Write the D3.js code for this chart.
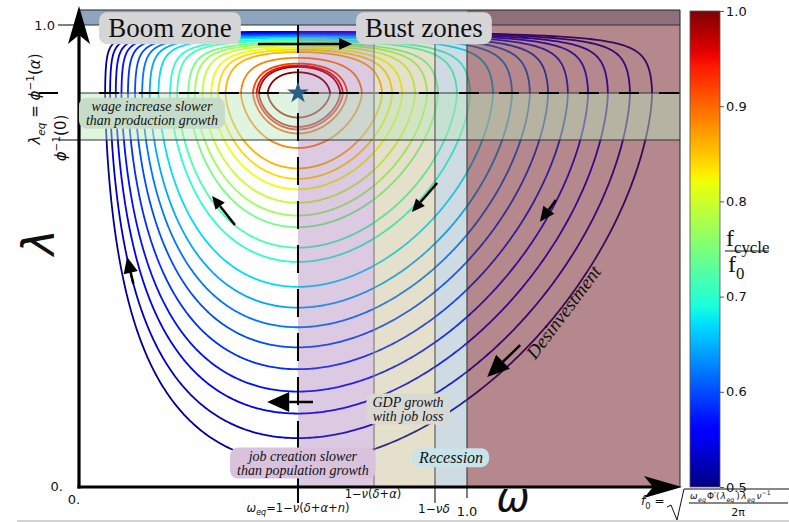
<!DOCTYPE html>
<html lang="en">
<head>
<meta charset="UTF-8">
<title>Goodwin cycles</title>
<script src="https://d3js.org/d3.v7.min.js"></script>
<style>
  body { margin: 0; background: #fff; }
  svg { display: block; font-family: "DejaVu Sans", sans-serif; }
  text { fill: #111; }
  .serif { font-family: "Liberation Serif", "Times New Roman", serif; }
</style>
</head>
<body>
<svg width="789" height="522"></svg>
<script>
// threshold values on the axes
const omegaEq = 0.5644, omegaRecov = 0.7603, omegaDelta = 0.9175;
const lambdaEq = 0.8528, lambdaPhi0 = 0.7511;

// closed orbits: omega where each orbit crosses lambda_eq on the right side
const orbitOmegaRight = [1.477, 1.420, 1.363, 1.312, 1.260, 1.209, 1.162, 1.116, 1.067, 1.008, 0.974,
                         0.925, 0.897, 0.866, 0.833, 0.807, 0.781, 0.729, 0.691, 0.680, 0.673, 0.647];
// f_cycle / f0 of each orbit (colour)
const orbitFreq = [0.51, 0.53, 0.55, 0.57, 0.585, 0.60, 0.62, 0.645, 0.67, 0.70, 0.72,
                   0.745, 0.77, 0.795, 0.82, 0.84, 0.86, 0.885, 0.92, 0.95, 0.975, 0.995];
const cbTicks = [0.5, 0.6, 0.7, 0.8, 0.9, 1.0];

// orbit shape constants: wage exponent, low / high employment terms
const Q = 1.77, cLow = 2.273, pLow = 1.65, cHigh = 0.0613, pHigh = 1.49;

const svg = d3.select("svg");
const x = d3.scaleLinear().domain([0, 1]).range([79, 467]);
const y = d3.scaleLinear().domain([0, 1]).range([487, 25]);
const omegaMax = x.invert(680), lambdaMax = y.invert(10);

// jet colormap
const jR = d3.scaleLinear().domain([0, 0.35, 0.66, 0.89, 1]).range([0, 0, 1, 1, 0.5]).clamp(true);
const jG = d3.scaleLinear().domain([0, 0.125, 0.375, 0.64, 0.91, 1]).range([0, 0, 1, 1, 0, 0]).clamp(true);
const jB = d3.scaleLinear().domain([0, 0.11, 0.34, 0.65, 1]).range([0.5, 1, 1, 0, 0]).clamp(true);
const cNorm = d3.scaleLinear().domain([0.5, 1]).range([0, 1]);
const jet = v => { const t = cNorm(v); return d3.rgb(255 * jR(t), 255 * jG(t), 255 * jB(t)).formatHex(); };

// conserved quantity H = F(omega) + G(lambda), both zero at the equilibrium
const G = l => l < lambdaEq ? cLow * Math.pow(lambdaEq - l, pLow)
                            : cHigh * Math.pow((l - lambdaEq) / (1 - l), pHigh);
const F = w => { const r = w / omegaEq; return Math.pow(r, Q) / Q - Math.log(r) - 1 / Q; };

function solve(f, lo, hi, target) {
  let flo = f(lo) - target;
  for (let i = 0; i < 70; i++) {
    const mid = (lo + hi) / 2, fm = f(mid) - target;
    if ((fm > 0) === (flo > 0)) { lo = mid; flo = fm; } else hi = mid;
  }
  return (lo + hi) / 2;
}

function orbit(wR) {
  const h = F(wR);
  const lLo = solve(G, 1e-6, lambdaEq, h), lHi = solve(G, lambdaEq, 1 - 1e-9, h);
  const N = 300, right = [], left = [];
  for (let i = 0; i <= N; i++) {
    const l = lLo + (lHi - lLo) * (1 - Math.cos(Math.PI * i / N)) / 2;
    const rem = Math.max(0, h - G(l));
    right.push([solve(F, omegaEq, 20 * omegaEq, rem), l]);
    left.push([solve(F, 1e-6, omegaEq, rem), l]);
  }
  return right.reverse().concat(left);
}

const line = d3.line().x(d => x(d[0])).y(d => y(d[1])).curve(d3.curveLinearClosed);

svg.append("g").selectAll("path")
  .data(orbitOmegaRight.map((w, i) => ({ pts: orbit(w), f: orbitFreq[i] })))
  .join("path")
  .attr("d", d => line(d.pts))
  .attr("fill", "none")
  .attr("stroke", d => jet(d.f))
  .attr("stroke-width", 1.8);

// zones
const zones = [
  { x0: omegaEq, x1: omegaRecov, c: "rgba(138,75,158,0.3)" },
  { x0: omegaRecov, x1: omegaDelta, c: "rgba(168,152,85,0.3)" },
  { x0: omegaDelta, x1: 1, c: "rgba(95,135,162,0.3)" },
  { x0: 1, x1: omegaMax, c: "rgba(107,17,29,0.5)" }
];
svg.append("g").selectAll("rect").data(zones).join("rect")
  .attr("x", d => x(d.x0)).attr("width", d => x(d.x1) - x(d.x0))
  .attr("y", y(1)).attr("height", y(0) - y(1))
  .attr("fill", d => d.c);
svg.append("rect").attr("x", x(0)).attr("width", x(omegaMax) - x(0))
  .attr("y", y(lambdaEq)).attr("height", y(lambdaPhi0) - y(lambdaEq))
  .attr("fill", "rgba(186,233,186,0.45)");
svg.append("rect").attr("x", x(0)).attr("width", x(1) - x(0))
  .attr("y", y(lambdaMax)).attr("height", y(1) - y(lambdaMax)).attr("fill", "#8fa5bf");
svg.append("rect").attr("x", x(1)).attr("width", x(omegaMax) - x(1))
  .attr("y", y(lambdaMax)).attr("height", y(1) - y(lambdaMax)).attr("fill", "#8f6f7b");

// thin reference lines
const ref = svg.append("g").attr("stroke-width", 1);
[1, lambdaEq, lambdaPhi0].forEach(l => ref.append("line")
  .attr("x1", x(0)).attr("x2", x(omegaMax)).attr("y1", y(l)).attr("y2", y(l)).attr("stroke", "#333"));
[[omegaRecov, "#888", 1.3], [omegaDelta, "#444", 1], [1, "#444", 1.2]].forEach(([w, c, s]) => ref.append("line")
  .attr("x1", x(w)).attr("x2", x(w)).attr("y1", y(1)).attr("y2", y(0)).attr("stroke", c).attr("stroke-width", s));
// frame
svg.append("path").attr("d", `M${x(0)},${y(lambdaMax)}H${x(omegaMax)}V${y(0)}`)
  .attr("fill", "none").attr("stroke", "#222").attr("stroke-width", 1);

// dashed equilibrium lines
svg.append("line").attr("x1", x(0)).attr("x2", x(omegaMax)).attr("y1", y(lambdaEq)).attr("y2", y(lambdaEq))
  .attr("stroke", "#000").attr("stroke-width", 2).attr("stroke-dasharray", "20,20").attr("stroke-dashoffset", 20);
svg.append("line").attr("x1", x(omegaEq)).attr("x2", x(omegaEq)).attr("y1", y(1)).attr("y2", y(0))
  .attr("stroke", "#000").attr("stroke-width", 2).attr("stroke-dasharray", "28,16");

svg.append("path").attr("d", d3.symbol(d3.symbolStar, 150)())
  .attr("transform", `translate(${x(omegaEq)},${y(lambdaEq)})`).attr("fill", "#2b5e86");

// flow arrows
const arrows = [
  { from: [0.461, 0.959], to: [0.704, 0.959], head: 13 },
  { from: [0.402, 0.567], to: [0.343, 0.630], head: 13 },
  { from: [0.140, 0.440], to: [0.124, 0.498], head: 16 },
  { from: [0.923, 0.658], to: [0.858, 0.595], head: 13 },
  { from: [1.229, 0.621], to: [1.188, 0.574], head: 15 },
  { from: [1.137, 0.307], to: [1.052, 0.238], head: 22 },
  { from: [0.603, 0.184], to: [0.485, 0.184], head: 22 }
];
const ag = svg.append("g");
arrows.forEach(a => {
  const x1 = x(a.from[0]), y1 = y(a.from[1]), x2 = x(a.to[0]), y2 = y(a.to[1]);
  const len = Math.hypot(x2 - x1, y2 - y1), ux = (x2 - x1) / len, uy = (y2 - y1) / len;
  const hl = a.head, hw = a.head * 0.45;
  const bx = x2 - ux * hl, by = y2 - uy * hl;
  ag.append("line").attr("x1", x1).attr("y1", y1).attr("x2", bx).attr("y2", by)
    .attr("stroke", "#000").attr("stroke-width", 2.5);
  ag.append("path").attr("d", `M${x2},${y2}L${bx - uy * hw},${by + ux * hw}L${bx + uy * hw},${by - ux * hw}Z`)
    .attr("fill", "#000");
});

// axes with arrow heads
function axisArrow(x1, y1, x2, y2) {
  const len = Math.hypot(x2 - x1, y2 - y1), ux = (x2 - x1) / len, uy = (y2 - y1) / len;
  const hl = 38, hw = 11, bx = x2 - ux * hl, by = y2 - uy * hl, nx = x2 - ux * (hl - 9), ny = y2 - uy * (hl - 9);
  svg.append("line").attr("x1", x1).attr("y1", y1).attr("x2", nx).attr("y2", ny)
    .attr("stroke", "#000").attr("stroke-width", 3.2);
  svg.append("path").attr("d", `M${x2},${y2}L${bx - uy * hw},${by + ux * hw}L${nx},${ny}L${bx + uy * hw},${by - ux * hw}Z`)
    .attr("fill", "#000");
}
axisArrow(x(0), y(0) + 1.5, x(0), 6);
axisArrow(x(0) - 1.5, y(0), 682, y(0));

// rich text helper
function rich(sel, parts, fs) {
  let shift = 0;
  parts.forEach(p => {
    const target = p.sub ? 0.3 : p.sup ? -0.4 : 0;
    const ts = sel.append("tspan").text(p.t).style("font-size", (target ? 0.7 : 1) * fs + "px");
    if (target !== shift) ts.attr("dy", (target - shift) * fs);
    if (p.i) ts.style("font-style", "italic");
    if (p.dx) ts.attr("dx", p.dx);
    shift = target;
  });
  return sel;
}

// y ticks
svg.append("line").attr("x1", 58).attr("x2", x(0)).attr("y1", y(1)).attr("y2", y(1)).attr("stroke", "#000");
svg.append("line").attr("x1", 58).attr("x2", x(0)).attr("y1", y(lambdaPhi0)).attr("y2", y(lambdaPhi0)).attr("stroke", "#000");
svg.append("line").attr("x1", 39).attr("x2", 58).attr("y1", y(lambdaEq)).attr("y2", y(lambdaEq)).attr("stroke", "#000").attr("stroke-width", 2);
svg.append("text").attr("x", 55).attr("y", y(1) + 4.5).attr("text-anchor", "end").style("font-size", "13px").text("1.0");
svg.append("text").attr("x", 63).attr("y", y(0) + 4).attr("text-anchor", "end").style("font-size", "13px").text("0.");
rich(svg.append("text").attr("transform", `translate(40,${y(lambdaEq) + 6}) rotate(-90)`).attr("text-anchor", "middle"),
  [{ t: "λ", i: 1 }, { t: "eq", sub: 1, i: 1 }, { t: " = " }, { t: "ϕ", i: 1 }, { t: "−1", sup: 1 }, { t: "(" }, { t: "α", i: 1 }, { t: ")" }], 15);
rich(svg.append("text").attr("transform", `translate(66,${y(lambdaPhi0) - 2}) rotate(-90)`).attr("text-anchor", "middle"),
  [{ t: "ϕ", i: 1 }, { t: "−1", sup: 1 }, { t: "(0)" }], 15);
svg.append("text").attr("transform", `translate(54,${y(0.53)}) rotate(-90)`).attr("text-anchor", "middle")
  .style("font-size", "44px").style("font-style", "italic").text("λ");

// x ticks
[[omegaEq, 16, 2], [omegaDelta, 16, 1], [1, 11, 1]].forEach(([w, l, s]) => svg.append("line")
  .attr("x1", x(w)).attr("x2", x(w)).attr("y1", y(0)).attr("y2", y(0) + l).attr("stroke", "#000").attr("stroke-width", s));
svg.append("text").attr("x", x(0) - 5).attr("y", 504).attr("text-anchor", "middle").style("font-size", "13px").text("0.");
rich(svg.append("text").attr("x", x(omegaEq)).attr("y", 512).attr("text-anchor", "middle"),
  [{ t: "ω", i: 1 }, { t: "eq", sub: 1, i: 1 }, { t: "=1−" }, { t: "ν", i: 1 }, { t: "(" }, { t: "δ", i: 1 }, { t: "+" }, { t: "α", i: 1 }, { t: "+" }, { t: "n", i: 1 }, { t: ")" }], 11.5);
rich(svg.append("text").attr("x", x(omegaRecov) - 1).attr("y", 498).attr("text-anchor", "middle"),
  [{ t: "1−" }, { t: "ν", i: 1 }, { t: "(" }, { t: "δ", i: 1 }, { t: "+" }, { t: "α", i: 1 }, { t: ")" }], 11.5);
rich(svg.append("text").attr("x", x(omegaDelta) - 1).attr("y", 513).attr("text-anchor", "middle"),
  [{ t: "1−" }, { t: "νδ", i: 1 }], 12);
svg.append("text").attr("x", x(1)).attr("y", 516).attr("text-anchor", "middle").style("font-size", "13px").text("1.0");
svg.append("text").attr("x", 513).attr("y", 511).attr("text-anchor", "middle")
  .style("font-size", "40px").style("font-style", "italic").text("ω");

// annotation boxes
function boxed(lines, at, fs, fill, opts = {}) {
  const g = svg.append("g").attr("transform", `translate(${x(at[0])},${y(at[1])})`);
  const t = g.append("text").attr("class", "serif").attr("text-anchor", "middle")
    .style("font-size", fs + "px").style("font-style", opts.italic ? "italic" : "normal");
  lines.forEach((s, i) => t.append("tspan").attr("x", 0).attr("y", (i - (lines.length - 1) / 2) * fs * 1.0 + fs * 0.33).text(s));
  const b = t.node().getBBox(), px = opts.px || 6, py = opts.py || 1;
  g.insert("rect", "text").attr("x", b.x - px).attr("y", b.y - py).attr("width", b.width + 2 * px)
    .attr("height", b.height + 2 * py).attr("rx", 8).attr("fill", fill);
}
boxed(["Boom zone"], [0.2345, 0.993], 27, "#d6d6d6", { px: 9, py: 0 });
boxed(["Bust zones"], [0.889, 0.993], 27, "#d6d6d6", { px: 9, py: 0 });
boxed(["wage increase slower", "than production growth"], [0.188, 0.8095], 14, "#c6dcc9", { italic: 1, px: 7 });
boxed(["GDP growth", "with job loss"], [0.848, 0.169], 14, "#d9d9d4", { italic: 1 });
boxed(["job creation slower", "than population growth"], [0.577, 0.052], 14, "#d8c2dc", { italic: 1, px: 7 });
boxed(["Recession"], [0.959, 0.063], 16, "#c8e4e8", { italic: 1 });
svg.append("text").attr("class", "serif").attr("transform", `translate(${x(1.262)},${y(0.37)}) rotate(-53)`)
  .attr("text-anchor", "middle").style("font-style", "italic")
  .style("font-size", "19px").text("Desinvestment");

// colour bar
const cb = d3.scaleLinear().domain([0.5, 1]).range([487, 11]);
const grad = svg.append("defs").append("linearGradient").attr("id", "jet")
  .attr("x1", 0).attr("y1", 1).attr("x2", 0).attr("y2", 0);
grad.selectAll("stop").data(d3.range(0, 1.0001, 0.02)).join("stop")
  .attr("offset", d => d).attr("stop-color", d => jet(0.5 + d * 0.5));
svg.append("rect").attr("x", 690).attr("y", cb(1)).attr("width", 30).attr("height", cb(0.5) - cb(1))
  .attr("fill", "url(#jet)").attr("stroke", "#555").attr("stroke-width", 0.8);
const cbAxis = svg.append("g").attr("transform", "translate(720,0)")
  .call(d3.axisRight(cb).tickValues(cbTicks).tickFormat(d3.format(".1f")).tickSize(4));
cbAxis.select(".domain").remove();
cbAxis.selectAll("text").style("font-size", "13px").style("font-family", "DejaVu Sans").attr("x", 6);
cbAxis.selectAll("line").attr("stroke", "#555");
rich(svg.append("text").attr("class", "serif").attr("x", 726).attr("y", 246), [{ t: "f" }, { t: "cycle", sub: 1 }], 24);
svg.append("line").attr("x1", 725).attr("x2", 769).attr("y1", 251).attr("y2", 251).attr("stroke", "#111").attr("stroke-width", 1.2);
rich(svg.append("text").attr("class", "serif").attr("x", 728).attr("y", 272), [{ t: "f" }, { t: "0", sub: 1 }], 24);

// f0 formula
rich(svg.append("text").attr("x", 641).attr("y", 505), [{ t: "f", i: 1 }, { t: "0", sub: 1 }, { t: " =" }], 12);
svg.append("path").attr("d", "M667,507L671,505L677,520L684,489H789").attr("fill", "none").attr("stroke", "#111").attr("stroke-width", 1);
rich(svg.append("text").attr("x", 690).attr("y", 499),
  [{ t: "ω", i: 1 }, { t: "eq", sub: 1, i: 1, dx: 0.5 }, { t: "Φ′(", dx: 1 }, { t: "λ", i: 1, dx: 1 }, { t: "eq", sub: 1, i: 1, dx: 0.5 },
   { t: ")", dx: 2 }, { t: "λ", i: 1, dx: 1.5 }, { t: "eq", sub: 1, i: 1, dx: 0.5 }, { t: "ν", i: 1, dx: 1.5 }, { t: "−1", sup: 1 }], 9);
svg.append("line").attr("x1", 689).attr("x2", 788).attr("y1", 503).attr("y2", 503).attr("stroke", "#111");
svg.append("text").attr("x", 738).attr("y", 516).attr("text-anchor", "middle").style("font-size", "11px").text("2π");

svg.append("line").attr("x1", 17).attr("x2", 789).attr("y1", 521).attr("y2", 521).attr("stroke", "#c4c4c4").attr("stroke-width", 1.5);
</script>
</body>
</html>
